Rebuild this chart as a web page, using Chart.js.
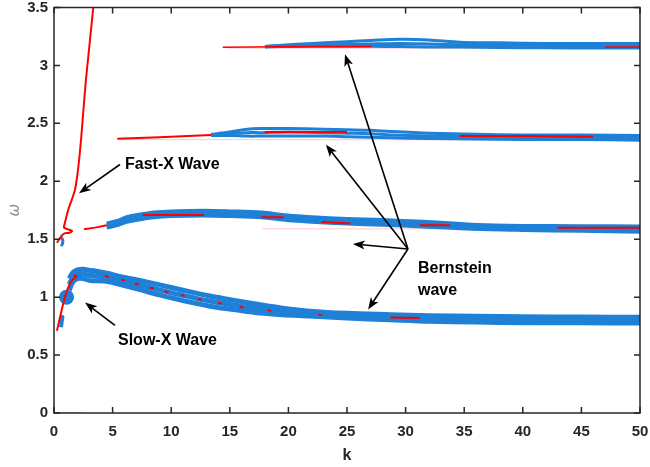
<!DOCTYPE html>
<html>
<head>
<meta charset="utf-8">
<script src="https://cdn.jsdelivr.net/npm/chart.js@4"></script>
<style>
  body { margin: 0; background: #fff; }
  canvas { display: block; }
</style>
</head>
<body>
<canvas id="chart" width="650" height="467"></canvas>
<script>
// tick labels
const xTicks = [0, 5, 10, 15, 20, 25, 30, 35, 40, 45, 50];
const yTicks = [0, 0.5, 1, 1.5, 2, 2.5, 3, 3.5];

// fast-X wave (red)
const fastK = [0.25, 0.45, 0.65, 0.9, 1.3, 1.55, 1.2, 0.85, 0.9, 1.0, 1.12, 1.3, 1.55, 1.8, 2.05, 2.3, 2.5, 2.7, 2.9, 3.1, 3.35];
const fastW = [1.47, 1.5, 1.53, 1.55, 1.555, 1.57, 1.585, 1.6, 1.63, 1.67, 1.72, 1.78, 1.85, 1.93, 2.1, 2.35, 2.6, 2.85, 3.05, 3.25, 3.5];

// slow-X wave
const slowRedK = [0.25, 0.5, 0.8, 1.0, 1.2, 1.5, 1.9];
const slowRedW = [0.71, 0.82, 0.95, 1.02, 1.08, 1.14, 1.18];
const slowK = [1.3, 1.6, 2.0, 2.5, 3.0, 3.5, 4.5, 6.0, 7.5, 9.0, 11.0, 13.3, 15.5, 17.6, 19.5, 21.8, 25, 28.7, 32, 36, 40, 45, 50];
const slowUpW = [1.16, 1.21, 1.235, 1.24, 1.232, 1.225, 1.206, 1.17, 1.14, 1.106, 1.06, 1.01, 0.97, 0.934, 0.905, 0.879, 0.86, 0.849, 0.84, 0.835, 0.83, 0.828, 0.826];
const slowMidW = [1.11, 1.17, 1.2, 1.2, 1.189, 1.185, 1.172, 1.135, 1.1, 1.063, 1.015, 0.966, 0.93, 0.898, 0.875, 0.858, 0.84, 0.827, 0.815, 0.808, 0.804, 0.802, 0.8];
const slowLoW = [1.06, 1.13, 1.16, 1.16, 1.145, 1.142, 1.137, 1.1, 1.06, 1.019, 0.97, 0.922, 0.89, 0.862, 0.848, 0.837, 0.82, 0.805, 0.792, 0.785, 0.78, 0.778, 0.776];
const slowDotK = [1.85, 4.5, 5.9, 7.05, 8.34, 9.6, 11.0, 12.45, 14.16, 16.0, 18.4, 22.7];
const slowDotW = [1.184, 1.178, 1.147, 1.113, 1.079, 1.047, 1.013, 0.979, 0.947, 0.913, 0.884, 0.847];
const slowSegK = [28.7, 31.2];
const slowSegW = [0.824, 0.82];

// small blue pieces near k = 1
const blobK = [1.07];
const blobW = [1.0];
const hookK = [0.55, 0.72, 0.75, 0.62];
const hookW = [1.52, 1.5, 1.47, 1.44];
const lowK = [0.6, 0.66, 0.72, 0.68];
const lowW = [0.74, 0.79, 0.83, 0.8];

// Bernstein band near 1.6
const b1K = [4.5, 5.5, 6.2, 7.5, 8.5, 10, 12.8, 15, 17.7, 19.9, 22, 25, 28, 31.5, 35.7, 40, 45, 50];
const b1UpW = [1.635, 1.66, 1.69, 1.715, 1.73, 1.74, 1.745, 1.74, 1.73, 1.705, 1.69, 1.675, 1.665, 1.65, 1.625, 1.615, 1.612, 1.61];
const b1MidW = [1.62, 1.645, 1.67, 1.695, 1.71, 1.72, 1.725, 1.72, 1.71, 1.685, 1.67, 1.656, 1.645, 1.63, 1.61, 1.6, 1.595, 1.59];
const b1LoW = [1.6, 1.625, 1.65, 1.675, 1.69, 1.7, 1.705, 1.7, 1.69, 1.665, 1.65, 1.635, 1.625, 1.61, 1.59, 1.58, 1.572, 1.565];
const b1RedK = [2.56, 3.5, 4.5, null, 7.6, 12.8, null, 17.7, 19.6, null, 22.8, 25.3, null, 31.2, 33.8, null, 43, 50];
const b1RedW = [1.587, 1.6, 1.62, null, 1.71, 1.71, null, 1.69, 1.69, null, 1.648, 1.635, null, 1.62, 1.62, null, 1.6, 1.598];

// Bernstein band near 2.4
const b2K = [13.4, 15, 16.5, 17.7, 20, 23, 25, 27, 28.7, 32, 36, 40, 45, 50];
const b2UpW = [2.405, 2.425, 2.45, 2.455, 2.455, 2.45, 2.445, 2.44, 2.43, 2.415, 2.405, 2.4, 2.4, 2.395];
const b2MidW = [2.4, 2.41, 2.42, 2.42, 2.425, 2.42, 2.415, 2.41, 2.4, 2.39, 2.385, 2.38, 2.38, 2.375];
const b2LoW = [2.395, 2.395, 2.39, 2.39, 2.39, 2.39, 2.385, 2.38, 2.375, 2.37, 2.365, 2.36, 2.36, 2.355];
const b2RedK = [5.4, 9, 13.4, null, 18, 25, null, 34.6, 40.2, 46];
const b2RedW = [2.368, 2.38, 2.4, null, 2.425, 2.425, null, 2.39, 2.39, 2.385];

// Bernstein band near 3.15
const b3K = [18, 19.4, 22, 25, 27, 29.5, 32, 34.6, 38, 42, 46, 50];
const b3UpW = [3.163, 3.175, 3.19, 3.205, 3.215, 3.226, 3.22, 3.2, 3.195, 3.19, 3.19, 3.19];
const b3MidW = [3.162, 3.17, 3.175, 3.18, 3.185, 3.19, 3.185, 3.178, 3.175, 3.172, 3.17, 3.17];
const b3LoW = [3.16, 3.163, 3.165, 3.165, 3.165, 3.163, 3.16, 3.158, 3.155, 3.152, 3.15, 3.15];
const b3RedK = [14.4, 19.4, 27.1, null, 47, 50];
const b3RedW = [3.157, 3.162, 3.164, null, 3.158, 3.158];

// faint pink traces
const pinkK = [17.8, 50, null, 5.5, 50, null, 15, 50, null, 0.3, 2.5];
const pinkW = [1.59, 1.588, null, 2.36, 2.357, null, 3.15, 3.147, null, 0.005, 0.005];

const RED = '#ff0000';
const BLUE = '#1e80d6';

function pts(K, W) {
    return K.map((k, i) => ({ x: k, y: W[i] }));
}

function line(K, W, color, width, order, extra) {
    return Object.assign({
        data: pts(K, W),
        showLine: true,
        borderColor: color,
        backgroundColor: color,
        borderWidth: width,
        pointRadius: 0,
        tension: 0.3,
        spanGaps: false,
        order: order
    }, extra || {});
}

const datasets = [
    // red segments on top
    line(fastK, fastW, RED, 2, 0, { tension: 0.2 }),
    line(slowRedK, slowRedW, RED, 2, 0),
    line(b1RedK, b1RedW, RED, 2, 0, { tension: 0 }),
    line(b2RedK, b2RedW, RED, 2, 0, { tension: 0 }),
    line(b3RedK, b3RedW, RED, 1.5, 0, { tension: 0 }),
    line(slowSegK, slowSegW, RED, 2, 0, { tension: 0 }),
    line(slowDotK, slowDotW, RED, 2, 0, {
        showLine: false, pointRadius: 2, pointStyle: 'line', rotation: 15,
        pointBorderColor: RED, pointBorderWidth: 2
    }),
    // blue bands
    line(slowK, slowUpW, BLUE, 5, 1),
    line(slowK, slowMidW, BLUE, 5, 1),
    line(slowK, slowLoW, BLUE, 5, 1),
    line(b1K, b1UpW, BLUE, 4, 1),
    line(b1K, b1MidW, BLUE, 4, 1),
    line(b1K, b1LoW, BLUE, 4, 1),
    line(b2K, b2UpW, BLUE, 3, 1),
    line(b2K, b2MidW, BLUE, 3, 1),
    line(b2K, b2LoW, BLUE, 3, 1),
    line(b3K, b3UpW, BLUE, 3, 1),
    line(b3K, b3MidW, BLUE, 3, 1),
    line(b3K, b3LoW, BLUE, 3, 1),
    line(hookK, hookW, BLUE, 3, 1),
    line(lowK, lowW, BLUE, 4, 1),
    line(blobK, blobW, BLUE, 1, 1, { showLine: false, pointRadius: 7.5, pointBorderWidth: 0 }),
    // pale traces underneath
    line(pinkK, pinkW, 'rgba(255,0,0,0.22)', 1, 2, { tension: 0 })
];

// annotation positions, in data units
const arrowsFrom = [[5.63, 2.145], [5.2, 0.756], [30.2, 1.416], [30.2, 1.416], [30.2, 1.416], [30.2, 1.416]];
const arrowsTo = [[2.13, 1.896], [2.65, 0.953], [24.83, 3.097], [23.2, 2.316], [25.5, 1.459], [26.8, 0.893]];
const labels = ['Fast-X Wave', 'Slow-X Wave', 'Bernstein', 'wave'];
const labelPos = [[6.06, 2.145], [5.46, 0.627], [31.06, 1.244], [31.06, 1.056]];

function arrow(ctx, x1, y1, x2, y2) {
    const ang = Math.atan2(y2 - y1, x2 - x1);
    const len = 12, half = 4.5;
    const bx = x2 - len * Math.cos(ang), by = y2 - len * Math.sin(ang);
    ctx.beginPath();
    ctx.moveTo(x1, y1);
    ctx.lineTo(bx + 3 * Math.cos(ang), by + 3 * Math.sin(ang));
    ctx.stroke();
    ctx.beginPath();
    ctx.moveTo(x2, y2);
    ctx.lineTo(bx + half * Math.sin(ang), by - half * Math.cos(ang));
    ctx.lineTo(bx + 3 * Math.cos(ang), by + 3 * Math.sin(ang));
    ctx.lineTo(bx - half * Math.sin(ang), by + half * Math.cos(ang));
    ctx.closePath();
    ctx.fill();
}

const overlay = {
    id: 'overlay',
    afterDraw(chart) {
        const { ctx, chartArea: a, scales: { x, y } } = chart;
        ctx.save();
        // box and inward ticks
        ctx.strokeStyle = '#262626';
        ctx.lineWidth = 1.5;
        ctx.strokeRect(a.left, a.top, a.right - a.left, a.bottom - a.top);
        ctx.beginPath();
        xTicks.forEach(v => {
            const px = x.getPixelForValue(v);
            ctx.moveTo(px, a.bottom); ctx.lineTo(px, a.bottom - 6);
            ctx.moveTo(px, a.top); ctx.lineTo(px, a.top + 6);
        });
        yTicks.forEach(v => {
            const py = y.getPixelForValue(v);
            ctx.moveTo(a.left, py); ctx.lineTo(a.left + 6, py);
            ctx.moveTo(a.right, py); ctx.lineTo(a.right - 6, py);
        });
        ctx.stroke();

        // arrows
        ctx.strokeStyle = '#000';
        ctx.fillStyle = '#000';
        ctx.lineWidth = 1.6;
        arrowsFrom.forEach((f, i) => {
            const t = arrowsTo[i];
            arrow(ctx, x.getPixelForValue(f[0]), y.getPixelForValue(f[1]),
                x.getPixelForValue(t[0]), y.getPixelForValue(t[1]));
        });

        // annotation text
        ctx.font = 'bold 16px "Liberation Sans", Arial, sans-serif';
        ctx.textBaseline = 'middle';
        ctx.textAlign = 'left';
        labels.forEach((s, i) => {
            ctx.fillText(s, x.getPixelForValue(labelPos[i][0]), y.getPixelForValue(labelPos[i][1]));
        });

        // axis titles
        ctx.fillStyle = '#262626';
        ctx.textAlign = 'center';
        ctx.font = 'bold 16px "Liberation Sans", Arial, sans-serif';
        ctx.fillText('k', (a.left + a.right) / 2, 456);
        ctx.save();
        ctx.translate(15, (a.top + a.bottom) / 2);
        ctx.rotate(-Math.PI / 2);
        ctx.fillStyle = '#8a8a8a';
        ctx.font = 'italic 15px "DejaVu Sans", sans-serif';
        ctx.fillText('ω', 0, 0);
        ctx.restore();
        ctx.restore();
    }
};

const tickFont = { family: '"Liberation Sans", Arial, sans-serif', weight: 'bold', size: 15 };

new Chart(document.getElementById('chart'), {
    type: 'scatter',
    data: { datasets: datasets },
    options: {
        responsive: false,
        animation: false,
        layout: { padding: { top: 5, right: 10, left: 0, bottom: 0 } },
        plugins: { legend: { display: false }, tooltip: { enabled: false } },
        scales: {
            x: {
                type: 'linear', min: 0, max: 50,
                grid: { display: false, drawTicks: false },
                border: { display: false },
                afterBuildTicks: s => { s.ticks = xTicks.map(v => ({ value: v })); },
                afterFit: s => { s.height = 54; s.paddingLeft = 0; s.paddingRight = 0; },
                ticks: { font: tickFont, color: '#262626', padding: 10, maxRotation: 0, callback: v => String(v) }
            },
            y: {
                type: 'linear', min: 0, max: 3.5,
                grid: { display: false, drawTicks: false },
                border: { display: false },
                afterBuildTicks: s => { s.ticks = yTicks.map(v => ({ value: v })); },
                afterFit: s => { s.width = 54; s.paddingTop = 0; s.paddingBottom = 0; },
                ticks: { font: tickFont, color: '#262626', padding: 6, callback: v => String(v) }
            }
        }
    },
    plugins: [overlay]
});
</script>
</body>
</html>
